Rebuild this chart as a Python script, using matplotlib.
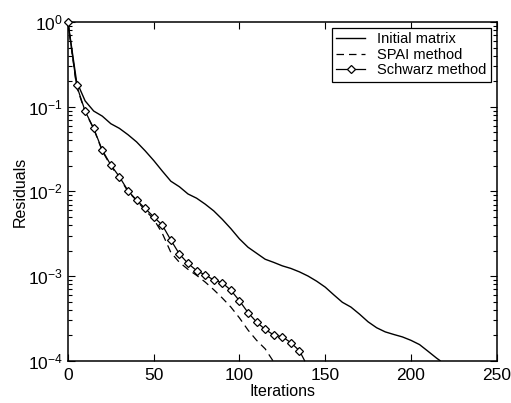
import matplotlib
matplotlib.use("Agg")
import matplotlib.pyplot as plt
from matplotlib.ticker import LogLocator, MultipleLocator, NullFormatter

plt.rcParams['font.family'] = ['Liberation Sans', 'DejaVu Sans']
plt.rcParams['mathtext.fontset'] = 'custom'
plt.rcParams['mathtext.rm'] = 'Liberation Sans'
plt.rcParams['mathtext.it'] = 'Liberation Sans:italic'

# Initial matrix
init_iter = [0, 5, 10, 15, 20, 25, 30, 35, 40, 45, 50, 55, 60, 65, 70, 75, 80, 85,
             90, 95, 100, 105, 110, 115, 120, 125, 130, 135, 140, 145, 150, 155,
             160, 165, 170, 175, 180, 185, 190, 195, 200, 205, 210, 215, 217]
init_res = [1.0, 0.200, 0.1175, 0.0891, 0.0776, 0.0631, 0.0556, 0.0468, 0.0385,
            0.0302, 0.0232, 0.0174, 0.0132, 0.01135, 0.00933, 0.00832, 0.00708,
            0.00589, 0.00468, 0.00363, 0.00275, 0.00219, 0.00186, 0.00158, 0.00145,
            0.00132, 0.00123, 0.00112, 0.00100, 0.00087, 0.00074, 0.00060, 0.00049,
            0.00043, 0.000355, 0.000288, 0.000245, 0.000219, 0.000204, 0.000191,
            0.000174, 0.000155, 0.000129, 0.000107, 0.0001]

# SPAI method
spai_iter = [0, 5, 10, 15, 20, 25, 30, 35, 40, 45, 50, 55, 60, 65, 70, 75, 80, 85,
             90, 95, 100, 105, 110, 115, 119.5]
spai_res = [1.0, 0.174, 0.087, 0.055, 0.030, 0.020, 0.0145, 0.0100, 0.0078, 0.0060,
            0.0047, 0.0032, 0.0019, 0.00145, 0.0012, 0.00102, 0.00085, 0.00069,
            0.00055, 0.00043, 0.00032, 0.00023, 0.000174, 0.000138, 0.0001]

# Schwarz method
schw_iter = [0, 5, 10, 15, 20, 25, 30, 35, 40, 45, 50, 55, 60, 65, 70, 75, 80, 85,
             90, 95, 100, 105, 110, 115, 120, 125, 130, 135, 138]
schw_res = [1.0, 0.180, 0.0889, 0.0556, 0.0308, 0.0205, 0.0149, 0.0102, 0.0079,
            0.0063, 0.0050, 0.0040, 0.00266, 0.00182, 0.00141, 0.00116, 0.00103,
            0.00090, 0.00083, 0.00068, 0.00051, 0.00037, 0.000286, 0.000234,
            0.000201, 0.000192, 0.000163, 0.000131, 0.0001]

legend_labels = ['Initial matrix', 'SPAI method', 'Schwarz method']

fig = plt.figure(figsize=(5.11, 4.03), dpi=100)
ax = fig.add_axes([0.133, 0.105, 0.839, 0.840])

ax.plot(init_iter, init_res, color='black', lw=1.0, label=legend_labels[0])
ax.plot(spai_iter, spai_res, color='black', lw=0.9, dashes=(6, 4), label=legend_labels[1])
ax.plot(schw_iter, schw_res, color='black', lw=0.9, marker='D', markersize=4.5,
        markerfacecolor='white', markeredgecolor='black', markeredgewidth=0.9,
        markevery=list(range(len(schw_iter) - 1)), clip_on=False,
        label=legend_labels[2], zorder=5)

ax.set_yscale('log')
ax.set_xlim(0, 250)
ax.set_ylim(1e-4, 1)
ax.xaxis.set_major_locator(MultipleLocator(50))
ax.yaxis.set_major_locator(LogLocator(base=10, numticks=10))
ax.yaxis.set_minor_locator(LogLocator(base=10, subs=range(2, 10), numticks=20))
ax.yaxis.set_minor_formatter(NullFormatter())

ax.tick_params(which='both', direction='in', top=True, right=True, labelsize=12.5,
               width=0.8, colors='black')
ax.tick_params(which='major', length=5)
ax.tick_params(which='minor', length=3)
ax.tick_params(axis='x', pad=5)
for s in ax.spines.values():
    s.set_linewidth(1.1)

ax.set_xlabel('Iterations', fontsize=11.5, labelpad=1)
ax.set_ylabel('Residuals', fontsize=11.5, labelpad=0)

leg = ax.legend(loc='upper right', fontsize=10.5, frameon=True, fancybox=False,
                edgecolor='black', framealpha=1, handlelength=2.0,
                borderaxespad=0.4, borderpad=0.3, labelspacing=0.1, handletextpad=0.8)
leg.get_frame().set_linewidth(0.9)

fig.savefig('out.png', dpi=100)
